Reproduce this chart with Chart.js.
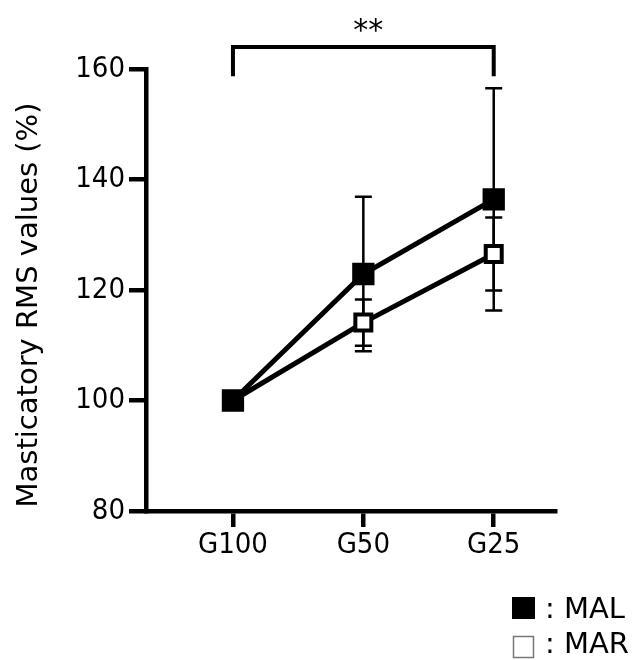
<!DOCTYPE html>
<html>
<head>
<meta charset="utf-8">
<script src="https://cdn.jsdelivr.net/npm/chart.js@4"></script>
<style>
  body { margin: 0; background: #fff; }
  #wrap { width: 636px; height: 660px; position: relative; }
</style>
</head>
<body>
<div id="wrap"><canvas id="myChart" width="636" height="660"></canvas></div>
<script>
const groups = ['G100', 'G50', 'G25'];
const malMean = [100, 122.9, 136.4];
const malSd = [0, 14, 20.1];
const marMean = [100, 114.1, 126.5];
const marSd = [0, 4.2, 6.6];
const yTicks = [80, 100, 120, 140, 160];
const yTitle = 'Masticatory RMS values (%)';
const FONT = 'DejaVu Sans Condensed, DejaVu Sans';
const FONT2 = 'DejaVu Sans';

const toPoints = (arr) => arr.map((v, i) => ({ x: i, y: v }));

// error bars, drawn from data through the scales
const errorBars = {
    id: 'errorBars',
    beforeDatasetsDraw(chart) {
        const { ctx, scales: { x, y } } = chart;
        const sets = [[malMean, malSd], [marMean, marSd]];
        ctx.save();
        ctx.strokeStyle = '#000';
        ctx.lineWidth = 2.5;
        sets.forEach(([m, sd]) => {
            m.forEach((v, i) => {
                if (!sd[i]) return;
                const px = x.getPixelForValue(i);
                const top = y.getPixelForValue(v + sd[i]);
                const bot = y.getPixelForValue(v - sd[i]);
                ctx.beginPath();
                ctx.moveTo(px, top); ctx.lineTo(px, bot);
                ctx.moveTo(px - 8.5, top); ctx.lineTo(px + 8.5, top);
                ctx.moveTo(px - 8.5, bot); ctx.lineTo(px + 8.5, bot);
                ctx.stroke();
            });
        });
        ctx.restore();
    }
};

// significance bracket G100 vs G25, y title, legend
const extras = {
    id: 'extras',
    afterDraw(chart) {
        const { ctx, scales: { x, y } } = chart;
        ctx.save();
        const x1 = x.getPixelForValue(0);
        const x2 = x.getPixelForValue(2);
        const yTop = y.getPixelForValue(164);
        const yBot = y.getPixelForValue(158.7);
        ctx.strokeStyle = '#000';
        ctx.lineWidth = 4;
        ctx.beginPath();
        ctx.moveTo(x1, yBot); ctx.lineTo(x1, yTop); ctx.lineTo(x2, yTop); ctx.lineTo(x2, yBot);
        ctx.stroke();
        ctx.fillStyle = '#000';
        ctx.font = '30px ' + FONT2;
        ctx.textAlign = 'center';
        ctx.textBaseline = 'middle';
        ctx.fillText('**', (x1 + x2) / 2 + 5, 32);

        // y title (a bit below the axis centre, as in the original)
        ctx.save();
        ctx.translate(37, (y.top + y.bottom) / 2 + 15);
        ctx.rotate(-Math.PI / 2);
        ctx.textBaseline = 'alphabetic';
        ctx.font = '29px ' + FONT2;
        ctx.fillText(yTitle, 0, 0);
        ctx.restore();

        // legend
        ctx.textAlign = 'left';
        ctx.textBaseline = 'alphabetic';
        ctx.font = '29px ' + FONT2;
        ctx.fillRect(512, 597, 23, 22);
        ctx.fillText(': MAL', 545, 618);
        ctx.strokeStyle = '#777';
        ctx.lineWidth = 1.5;
        ctx.strokeRect(513.5, 636.5, 20, 21);
        ctx.fillText(': MAR', 545, 653);
        ctx.restore();
    }
};

const config = {
    type: 'line',
    data: {
        datasets: [{
            label: 'MAL',
            data: toPoints(malMean),
            borderColor: '#000',
            borderWidth: 5,
            pointStyle: 'rect',
            pointRadius: 14,
            pointBackgroundColor: '#000',
            pointBorderColor: '#000',
            pointBorderWidth: 2.5
        }, {
            label: 'MAR',
            data: toPoints(marMean),
            borderColor: '#000',
            borderWidth: 5,
            pointStyle: 'rect',
            pointRadius: 11.3,
            pointBackgroundColor: '#fff',
            pointBorderColor: '#000',
            pointBorderWidth: 4
        }]
    },
    options: {
        responsive: false,
        animation: false,
        layout: { padding: { top: 69, right: 81, left: 0, bottom: 0 } },
        plugins: { legend: { display: false }, tooltip: { enabled: false } },
        scales: {
            x: {
                type: 'linear',
                min: -0.667,
                max: 2.47,
                afterBuildTicks: (s) => { s.ticks = groups.map((g, i) => ({ value: i })); },
                afterFit: (s) => { s.height = 149; },
                ticks: {
                    color: '#000',
                    font: { family: FONT, size: 29 },
                    padding: 1,
                    callback: (v) => groups[v]
                },
                grid: { drawOnChartArea: false, tickLength: 16, color: '#000', lineWidth: 4.5 },
                border: { display: true, color: '#000', width: 4.5 }
            },
            y: {
                min: 80,
                max: 160,
                afterBuildTicks: (s) => { s.ticks = yTicks.map((v) => ({ value: v })); },
                afterFit: (s) => { s.width = 146; },
                ticks: {
                    color: '#000',
                    font: { family: FONT, size: 29 },
                    padding: 4
                },
                grid: { drawOnChartArea: false, tickLength: 17, color: '#000', lineWidth: 4.5 },
                border: { display: true, color: '#000', width: 4.5 }
            }
        }
    },
    plugins: [errorBars, extras]
};

new Chart(document.getElementById('myChart'), config);
</script>
</body>
</html>
